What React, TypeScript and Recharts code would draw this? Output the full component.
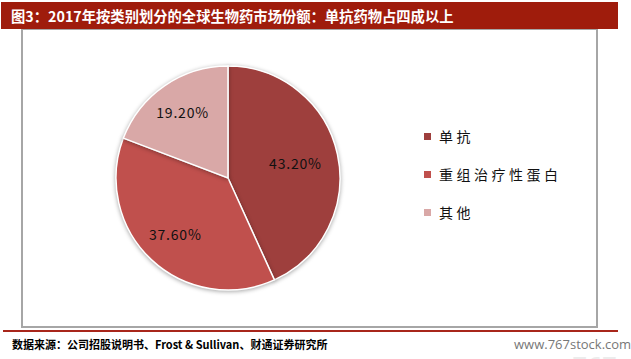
import React from "react";
import { PieChart, Pie, Cell } from "recharts";

const categories = ["单抗", "重组治疗性蛋白", "其他"];
const shares = [43.2, 37.6, 19.2];
const shareLabels = ["43.20%", "37.60%", "19.20%"];
const colors = ["#9e3f3d", "#c0504d", "#d9a8a7"];

const title = "图3：2017年按类别划分的全球生物药市场份额：单抗药物占四成以上";
const source = "数据来源：公司招股说明书、Frost & Sullivan、财通证券研究所";
const watermark = "www.767stock.com";

const data = categories.map((name, i) => ({ name, value: shares[i], label: shareLabels[i] }));

const CJK = '"Noto Sans CJK SC", "Noto Sans", sans-serif';
const LABEL_R = [69, 77, 80];
const RAD = Math.PI / 180;

const renderLabel = (props: any) => {
  const { cx, cy, midAngle, index } = props;
  const r = LABEL_R[index] ?? 70;
  const x = cx + r * Math.cos(-midAngle * RAD);
  const y = cy + r * Math.sin(-midAngle * RAD);
  return (
    <text x={x} y={y} fill="#111" fontSize={14} letterSpacing={0.8} fontFamily={CJK} textAnchor="middle" dominantBaseline="central">
      {data[index].label}
    </text>
  );
};

export default function App() {
  return (
    <div style={{ position: "absolute", left: 0, top: 0, width: 631, height: 359, background: "#fff", overflow: "hidden" }}>
      <div style={{ position: "absolute", left: 1, top: 2, width: 617, height: 27, background: "#9f1c0c" }} />
      <div style={{ position: "absolute", left: 11, top: 4, height: 24, lineHeight: "24px", color: "#fff", fontWeight: 700, fontSize: 14.3, fontFamily: CJK, whiteSpace: "nowrap" }}>
        {title}
      </div>
      <div style={{ position: "absolute", left: 21, top: 29, width: 573, height: 296, border: "2px solid #a6a6a6", borderTop: "1px solid #a6a6a6", background: "#fff" }} />
      <div style={{ position: "absolute", left: 3, top: 330, width: 615, height: 2, background: "#a8261b" }} />
      <div style={{ position: "absolute", left: 12, top: 336, height: 16, lineHeight: "16px", color: "#000", fontWeight: 700, fontSize: 11, fontFamily: CJK, whiteSpace: "nowrap" }}>
        {source}
      </div>
      <div style={{ position: "absolute", left: 514, top: 336, height: 16, lineHeight: "16px", color: "#777", fontSize: 13, fontFamily: '"Open Sans", sans-serif', whiteSpace: "nowrap" }}>
        {watermark}
      </div>
      <div style={{ position: "absolute", left: 505, top: 352, height: 26, lineHeight: "26px", color: "#ececec", fontSize: 26, fontFamily: '"Open Sans", sans-serif', whiteSpace: "nowrap" }}>
        {watermark}
      </div>
      <div style={{ position: "absolute", left: 0, top: 0 }}>
        <PieChart width={631} height={359} margin={{ top: 0, right: 0, bottom: 0, left: 0 }}>
          <Pie
            data={data}
            dataKey="value"
            nameKey="name"
            cx={228}
            cy={178}
            outerRadius={112}
            startAngle={90}
            endAngle={-270}
            stroke="#ffffff"
            strokeWidth={1.5}
            label={renderLabel}
            labelLine={false}
            isAnimationActive={false}
            style={{ filter: "drop-shadow(0px 1px 2px rgba(0,0,0,0.35))" }}
          >
            {data.map((d, i) => (
              <Cell key={d.name} fill={colors[i]} />
            ))}
          </Pie>
        </PieChart>
      </div>
      <div style={{ position: "absolute", left: 424, top: 117, fontFamily: CJK }}>
        {data.map((d, i) => (
          <div key={d.name} style={{ display: "flex", alignItems: "center", height: 38 }}>
            <span style={{ display: "inline-block", width: 7, height: 7, background: colors[i], marginRight: 8 }} />
            <span style={{ fontSize: 14, letterSpacing: 3.5, color: "#111" }}>{d.name}</span>
          </div>
        ))}
      </div>
    </div>
  );
}
